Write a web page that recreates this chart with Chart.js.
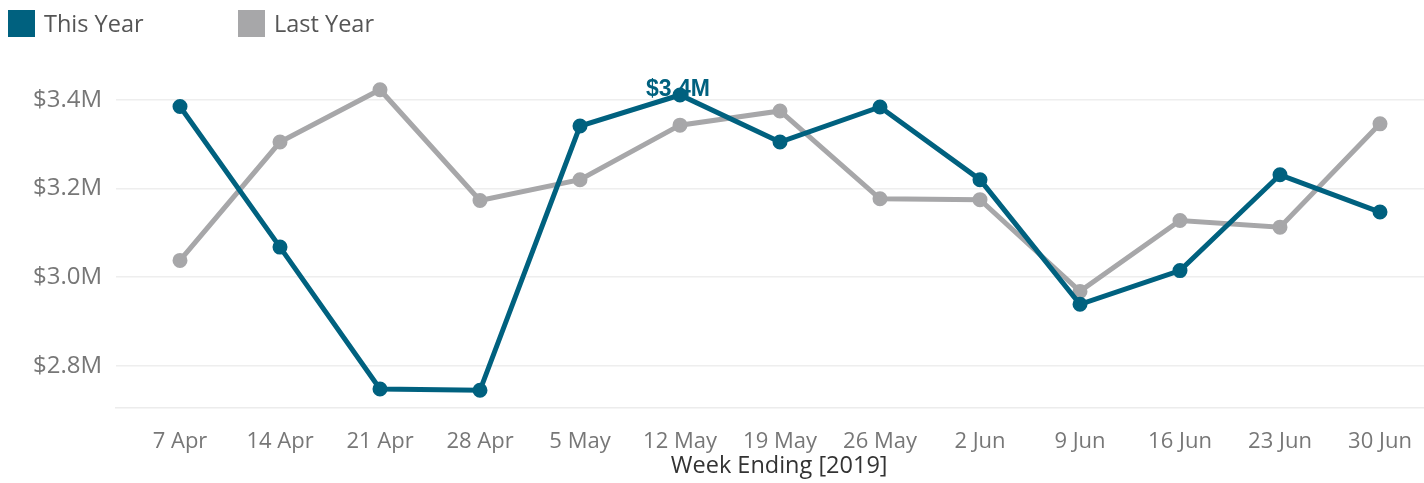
<!DOCTYPE html>
<html>
<head>
<meta charset="utf-8">
<script src="https://cdn.jsdelivr.net/npm/chart.js@4.4.1/dist/chart.umd.min.js"></script>
<style>
  html, body { margin: 0; padding: 0; background: #fff; }
  #wrap { position: relative; width: 1424px; height: 483px; }
  #chart { position: absolute; left: 0; top: 0; }
  #legend { position: absolute; left: 8px; top: 10px; font-family: "Open Sans", sans-serif; font-size: 23.5px; color: #555; }
  .item { position: absolute; top: 0; white-space: nowrap; }
  .box { position: absolute; left: 0; top: 0; width: 27px; height: 27px; }
  .lbl { position: absolute; left: 36px; top: -1px; line-height: 28px; }
</style>
</head>
<body>
<div id="wrap">
  <canvas id="chart" width="1424" height="483"></canvas>
  <div id="legend"></div>
</div>
<script>
// Données
const weeks = ['7 Apr', '14 Apr', '21 Apr', '28 Apr', '5 May', '12 May', '19 May', '26 May', '2 Jun', '9 Jun', '16 Jun', '23 Jun', '30 Jun'];
const thisYear = [3.385, 3.068, 2.748, 2.745, 3.341, 3.411, 3.305, 3.384, 3.220, 2.939, 3.015, 3.231, 3.147];
const lastYear = [3.038, 3.305, 3.423, 3.173, 3.220, 3.343, 3.375, 3.177, 3.175, 2.968, 3.128, 3.113, 3.346];
const yTicks = [2.8, 3.0, 3.2, 3.4];
const seriesNames = ['This Year', 'Last Year'];
const seriesColors = ['#00617f', '#a7a7a9'];

const fmt = v => '$' + v.toFixed(1) + 'M';

// Légende HTML
const legend = document.getElementById('legend');
seriesNames.forEach((name, i) => {
    const item = document.createElement('div');
    item.className = 'item';
    item.style.left = (i * 230) + 'px';
    item.innerHTML = '<div class="box" style="background:' + seriesColors[i] + '"></div><div class="lbl">' + name + '</div>';
    legend.appendChild(item);
});

// Étiquette sur le maximum de "This Year"
const maxLabel = {
    id: 'maxLabel',
    afterDatasetsDraw(chart) {
        const meta = chart.getDatasetMeta(0);
        let idx = 0;
        thisYear.forEach((v, i) => { if (v > thisYear[idx]) idx = i; });
        const pt = meta.data[idx];
        const ctx = chart.ctx;
        ctx.save();
        ctx.font = 'bold 23px "Liberation Sans", Arial, sans-serif';
        ctx.fillStyle = seriesColors[0];
        ctx.textAlign = 'center';
        ctx.textBaseline = 'alphabetic';
        ctx.fillText(fmt(thisYear[idx]), pt.x - 2, pt.y + 1);
        ctx.restore();
    }
};

const toPoints = arr => arr.map((v, i) => ({ x: i, y: v }));

new Chart(document.getElementById('chart'), {
    type: 'line',
    data: {
        datasets: [
            {
                label: seriesNames[0],
                data: toPoints(thisYear),
                borderColor: seriesColors[0],
                backgroundColor: seriesColors[0],
                borderWidth: 5,
                pointRadius: 5,
                pointHoverRadius: 5,
                tension: 0
            },
            {
                label: seriesNames[1],
                data: toPoints(lastYear),
                borderColor: seriesColors[1],
                backgroundColor: seriesColors[1],
                borderWidth: 5,
                pointRadius: 5,
                pointHoverRadius: 5,
                tension: 0
            }
        ]
    },
    options: {
        responsive: false,
        animation: false,
        layout: { autoPadding: false, padding: { top: 60, right: 0, left: 0, bottom: 0 } },
        plugins: {
            legend: { display: false },
            tooltip: { enabled: false }
        },
        scales: {
            x: {
                type: 'linear',
                min: -0.64,
                max: 12.44,
                afterBuildTicks: scale => { scale.ticks = weeks.map((w, i) => ({ value: i })); },
                afterFit: scale => {
                    scale.height = 75;
                    scale.paddingLeft = 0;
                    scale.paddingRight = 0;
                },
                grid: { display: false },
                border: { display: true, color: '#ececec', width: 1.5 },
                ticks: {
                    callback: v => weeks[v],
                    color: '#777',
                    font: { family: '"Open Sans", sans-serif', size: 22 },
                    padding: 13,
                    maxRotation: 0,
                    autoSkip: false
                },
                title: {
                    display: true,
                    // espaces insécables pour décaler le titre vers la droite
                    text: '\u00a0\u00a0\u00a0Week Ending [2019]',
                    color: '#333',
                    font: { family: '"Open Sans", sans-serif', size: 23.5 },
                    padding: { top: 0, bottom: 3 }
                }
            },
            y: {
                min: 2.705,
                max: 3.49,
                afterBuildTicks: scale => { scale.ticks = yTicks.map(v => ({ value: v })); },
                afterFit: scale => { scale.width = 116; },
                grid: { color: '#eeeeee', lineWidth: 1.5, drawTicks: false },
                border: { display: false },
                ticks: {
                    callback: v => fmt(v),
                    color: '#777',
                    font: { family: '"Open Sans", sans-serif', size: 24 },
                    padding: 14
                }
            }
        }
    },
    plugins: [maxLabel]
});
</script>
</body>
</html>
